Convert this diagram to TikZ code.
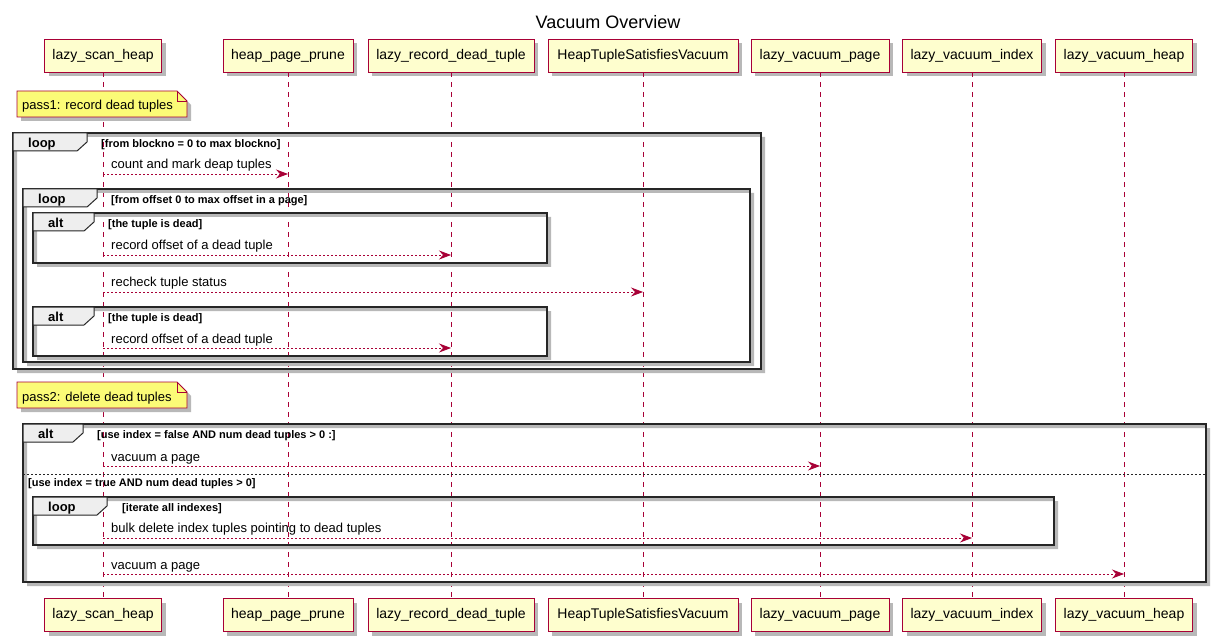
\documentclass[tikz,border=0pt]{standalone}
\usepackage{fontspec}
\setmainfont{Liberation Sans}
\usetikzlibrary{arrows.meta,backgrounds}
\definecolor{pcol}{HTML}{A80036}
\definecolor{pfill}{HTML}{FEFECE}
\definecolor{nfill}{HTML}{FBFB77}
\definecolor{tabfill}{HTML}{EEEEEE}
\definecolor{shad}{HTML}{909090}
\tikzset{
  part/.style={draw=pcol, fill=pfill, line width=0.9pt, minimum height=33pt, inner sep=0pt,
    font=\fontsize{14}{16}\selectfont},
  lifeline/.style={draw=pcol, line width=0.8pt, dash pattern=on 5pt off 5pt},
  msg/.style={draw=pcol, line width=0.8pt, dash pattern=on 2pt off 2pt,
    -{Stealth[length=12pt,width=9pt,inset=4pt]}},
  msgtext/.style={anchor=base west, inner sep=0pt, font=\fontsize{13}{15}\selectfont},
  frame/.style={draw=black!85, line width=1.6pt},
  tabshape/.style={draw=black!85, fill=tabfill, line width=1pt},
  grp/.style={anchor=base west, inner sep=0pt, font=\bfseries\fontsize{13}{15}\selectfont},
  cond/.style={anchor=base west, inner sep=0pt, font=\bfseries\fontsize{11}{13}\selectfont},
  sep/.style={draw=black!85, line width=0.9pt, dash pattern=on 2pt off 2pt},
  note/.style={draw=pcol, fill=nfill, line width=0.8pt},
  notetext/.style={anchor=base west, inner sep=0pt, font=\fontsize{13}{15}\selectfont},
}
\newcommand\umlgroup[8]{%
  \fill[black!28, even odd rule] (#2+4,#3+4) rectangle (#4+4,#5+4) (#2,#3) rectangle (#4,#5);
  \draw[frame] (#2,#3) rectangle (#4,#5);
  \draw[tabshape] (#2,#3) -- (#2+#6,#3) -- (#2+#6,#3+9) -- (#2+#6-10,#3+18) -- (#2,#3+18) -- cycle;
  \node[grp] (#1lbl) at (#2+15,#3+14.5) {#7};
  \node[cond] (#1cond) at (#2+#6+14,#3+14.5) {#8};
}
\newcommand\umlnote[4]{%
  \fill[black!28] (#2+4,#3+4) -- (#2+160+4,#3+4) -- (#2+170+4,#3+10+4) -- (#2+170+4,#3+26+4) -- (#2+4,#3+26+4) -- cycle;
  \path[note] (#2,#3) -- (#2+160,#3) -- (#2+170,#3+10) -- (#2+170,#3+26) -- (#2,#3+26) -- cycle;
  \draw[pcol, line width=0.8pt] (#2+160,#3) -- (#2+160,#3+10) -- (#2+170,#3+10);
  \node[notetext] (#1) at (#2+5,#3+19) {#4};
}
\begin{document}
\begin{tikzpicture}[x=1pt,y=-1pt]
\useasboundingbox (0,0) rectangle (1216,639);
\fill[white] (0,0) rectangle (1216,639);
\node[font=\fontsize{18}{21}\selectfont, inner sep=0pt] (title) at (608,22) {Vacuum Overview};

% participant shadows (drawn first, at the participant positions)
\foreach \cx/\w in {103/117,288/130,451/166,643/190,820/138,972/139,1124/137} {
  \fill[black!28] (\cx-\w/2+4,39+4) rectangle (\cx+\w/2+4,72+4);
  \fill[black!28] (\cx-\w/2+4,598.5+4) rectangle (\cx+\w/2+4,631.5+4);
}

% participants top
\node[part, minimum width=117pt] (p1) at (103,55.5) {lazy\_scan\_heap};
\node[part, minimum width=130pt] (p2) at (288,55.5) {heap\_page\_prune};
\node[part, minimum width=166pt] (p3) at (451,55.5) {lazy\_record\_dead\_tuple};
\node[part, minimum width=190pt] (p4) at (643,55.5) {HeapTupleSatisfiesVacuum};
\node[part, minimum width=138pt] (p5) at (820,55.5) {lazy\_vacuum\_page};
\node[part, minimum width=139pt] (p6) at (972,55.5) {lazy\_vacuum\_index};
\node[part, minimum width=137pt] (p7) at (1124,55.5) {lazy\_vacuum\_heap};
% participants bottom
\node[part, minimum width=117pt] (q1) at (103,615) {lazy\_scan\_heap};
\node[part, minimum width=130pt] (q2) at (288,615) {heap\_page\_prune};
\node[part, minimum width=166pt] (q3) at (451,615) {lazy\_record\_dead\_tuple};
\node[part, minimum width=190pt] (q4) at (643,615) {HeapTupleSatisfiesVacuum};
\node[part, minimum width=138pt] (q5) at (820,615) {lazy\_vacuum\_page};
\node[part, minimum width=139pt] (q6) at (972,615) {lazy\_vacuum\_index};
\node[part, minimum width=137pt] (q7) at (1124,615) {lazy\_vacuum\_heap};

% lifelines
\foreach \i in {1,...,7} { \draw[lifeline] (p\i.south) -- (q\i.north); }

% notes
\umlnote{n1}{17}{91}{pass1: record dead tuples}
\umlnote{n2}{17}{382}{pass2: delete dead tuples}

% groups
\umlgroup{ga}{13}{133}{761}{369}{74}{loop}{[from blockno = 0 to max blockno]}
\umlgroup{gb}{23}{189}{750}{362}{74}{loop}{[from offset 0 to max offset in a page]}
\umlgroup{gc}{33}{213}{547}{263}{61}{alt}{[the tuple is dead]}
\umlgroup{gd}{33}{307}{547}{356}{61}{alt}{[the tuple is dead]}
\umlgroup{ge}{23}{424}{1206}{582}{60}{alt}{[use index = false AND num dead tuples > 0 :]}
\draw[sep] (23,474) -- (1206,474);
\node[cond] (elsecond) at (28,486) {[use index = true AND num dead tuples > 0]};
\umlgroup{gf}{33}{497}{1054}{545}{74}{loop}{\hspace{1pt}[iterate all indexes]}

% messages
\draw[msg] (p1 |- 0,174) -- (p2 |- 0,174);
\node[msgtext] (t1) at (111,169) {count and mark deap tuples};
\draw[msg] (p1 |- 0,255) -- (p3 |- 0,255);
\node[msgtext] (t2) at (111,250) {record offset of a dead tuple};
\draw[msg] (p1 |- 0,292) -- (p4 |- 0,292);
\node[msgtext] (t3) at (111,287) {recheck tuple status};
\draw[msg] (p1 |- 0,348) -- (p3 |- 0,348);
\node[msgtext] (t4) at (111,343) {record offset of a dead tuple};
\draw[msg] (p1 |- 0,466) -- (p5 |- 0,466);
\node[msgtext] (t5) at (111,461) {vacuum a page};
\draw[msg] (p1 |- 0,538) -- (p6 |- 0,538);
\node[msgtext] (t6) at (111,532) {bulk delete index tuples pointing to dead tuples};
\draw[msg] (p1 |- 0,574) -- (p7 |- 0,574);
\node[msgtext] (t7) at (111,569) {vacuum a page};
\end{tikzpicture}
\end{document}
